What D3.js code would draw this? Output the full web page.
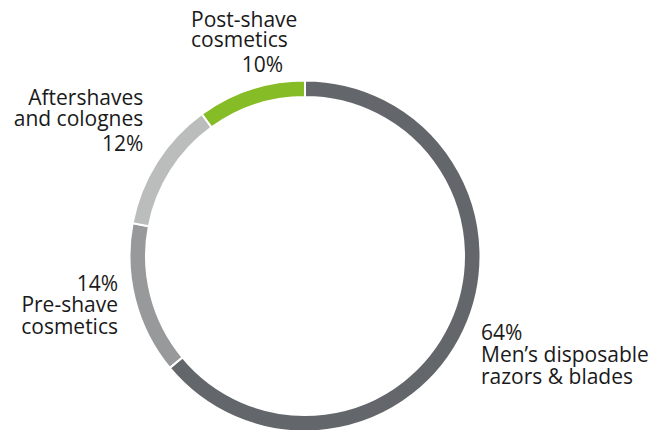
<!DOCTYPE html>
<html>
<head>
<meta charset="utf-8">
<script src="https://cdn.jsdelivr.net/npm/d3@7"></script>
<style>
  html, body { margin: 0; padding: 0; background: #fff; }
  svg { display: block; }
  text { font-family: "Open Sans", sans-serif; font-size: 21px; fill: #1a1a1a; }
</style>
</head>
<body>
<svg id="chart" width="668" height="430"></svg>
<script>
const categories = ["Men’s disposable razors & blades", "Pre-shave cosmetics", "Aftershaves and colognes", "Post-shave cosmetics"];
const values = [64, 14, 12, 10];
const colors = ["#63666a", "#97999b", "#bbbcbc", "#86bc25"];
const labelLines = [
  ["64%", "Men’s disposable", "razors & blades"],
  ["14%", "Pre-shave", "cosmetics"],
  ["Aftershaves", "and colognes", "12%"],
  ["Post-shave", "cosmetics", "10%"]
];

const svg = d3.select("#chart");
const cx = 305, cy = 256, outerR = 175.5, innerR = 159;

const pie = d3.pie().sort(null).value(d => d)(values);
const arc = d3.arc().innerRadius(innerR).outerRadius(outerR);

const g = svg.append("g").attr("transform", `translate(${cx},${cy})`);
g.selectAll("path").data(pie).join("path")
  .attr("d", arc)
  .attr("fill", (d, i) => colors[i])
  .attr("stroke", "#fff")
  .attr("stroke-width", 2);

// label placement (layout only)
const layouts = [
  [{x: 481, y: 340, a: "start"}, {x: 481, y: 362.3, a: "start"}, {x: 481, y: 384, a: "start"}],
  [{x: 118, y: 290.7, a: "end"}, {x: 118, y: 312.3, a: "end"}, {x: 118, y: 334.3, a: "end"}],
  [{x: 143.3, y: 105, a: "end"}, {x: 143.3, y: 125.7, a: "end"}, {x: 143.3, y: 151, a: "end"}],
  [{x: 191, y: 27.3, a: "start"}, {x: 191, y: 47.3, a: "start"}, {x: 283, y: 71.7, a: "end"}]
];

labelLines.forEach((lines, i) => {
  const t = svg.append("text").attr("class", "label");
  lines.forEach((s, j) => {
    const p = layouts[i][j];
    t.append("tspan")
      .attr("x", p.x).attr("y", p.y)
      .attr("text-anchor", p.a)
      .text(s);
  });
});
</script>
</body>
</html>
